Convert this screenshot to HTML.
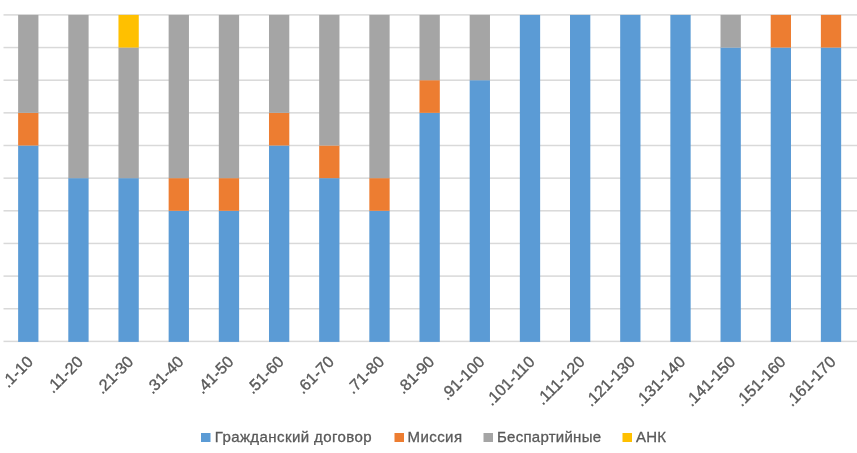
<!DOCTYPE html>
<html><head><meta charset="utf-8"><style>
html,body{margin:0;padding:0;background:#fff;}
body{width:857px;height:453px;overflow:hidden;position:relative;font-family:"Liberation Sans",sans-serif;}
svg{position:absolute;left:0;top:0;filter:blur(0.45px);}
</style></head><body>
<svg width="857" height="453" viewBox="0 0 857 453" font-family="Liberation Sans, sans-serif">

<rect x="3.5" y="340.65" width="853.5" height="1.5" fill="#D9D9D9"/>
<rect x="3.5" y="308.00" width="853.5" height="1.5" fill="#D9D9D9"/>
<rect x="3.5" y="275.35" width="853.5" height="1.5" fill="#D9D9D9"/>
<rect x="3.5" y="242.70" width="853.5" height="1.5" fill="#D9D9D9"/>
<rect x="3.5" y="210.05" width="853.5" height="1.5" fill="#D9D9D9"/>
<rect x="3.5" y="177.40" width="853.5" height="1.5" fill="#D9D9D9"/>
<rect x="3.5" y="144.75" width="853.5" height="1.5" fill="#D9D9D9"/>
<rect x="3.5" y="112.10" width="853.5" height="1.5" fill="#D9D9D9"/>
<rect x="3.5" y="79.45" width="853.5" height="1.5" fill="#D9D9D9"/>
<rect x="3.5" y="46.80" width="853.5" height="1.5" fill="#D9D9D9"/>
<rect x="3.5" y="14.15" width="853.5" height="1.5" fill="#D9D9D9"/>
<rect x="18.13" y="145.50" width="20.3" height="196.40" fill="#5B9BD5"/>
<rect x="18.13" y="112.85" width="20.3" height="32.65" fill="#ED7D31"/>
<rect x="18.13" y="14.90" width="20.3" height="97.95" fill="#A5A5A5"/>
<rect x="68.30" y="178.15" width="20.3" height="163.75" fill="#5B9BD5"/>
<rect x="68.30" y="14.90" width="20.3" height="163.25" fill="#A5A5A5"/>
<rect x="118.47" y="178.15" width="20.3" height="163.75" fill="#5B9BD5"/>
<rect x="118.47" y="47.55" width="20.3" height="130.60" fill="#A5A5A5"/>
<rect x="118.47" y="14.90" width="20.3" height="32.65" fill="#FFC000"/>
<rect x="168.64" y="210.80" width="20.3" height="131.10" fill="#5B9BD5"/>
<rect x="168.64" y="178.15" width="20.3" height="32.65" fill="#ED7D31"/>
<rect x="168.64" y="14.90" width="20.3" height="163.25" fill="#A5A5A5"/>
<rect x="218.81" y="210.80" width="20.3" height="131.10" fill="#5B9BD5"/>
<rect x="218.81" y="178.15" width="20.3" height="32.65" fill="#ED7D31"/>
<rect x="218.81" y="14.90" width="20.3" height="163.25" fill="#A5A5A5"/>
<rect x="268.99" y="145.50" width="20.3" height="196.40" fill="#5B9BD5"/>
<rect x="268.99" y="112.85" width="20.3" height="32.65" fill="#ED7D31"/>
<rect x="268.99" y="14.90" width="20.3" height="97.95" fill="#A5A5A5"/>
<rect x="319.16" y="178.15" width="20.3" height="163.75" fill="#5B9BD5"/>
<rect x="319.16" y="145.50" width="20.3" height="32.65" fill="#ED7D31"/>
<rect x="319.16" y="14.90" width="20.3" height="130.60" fill="#A5A5A5"/>
<rect x="369.33" y="210.80" width="20.3" height="131.10" fill="#5B9BD5"/>
<rect x="369.33" y="178.15" width="20.3" height="32.65" fill="#ED7D31"/>
<rect x="369.33" y="14.90" width="20.3" height="163.25" fill="#A5A5A5"/>
<rect x="419.50" y="112.85" width="20.3" height="229.05" fill="#5B9BD5"/>
<rect x="419.50" y="80.20" width="20.3" height="32.65" fill="#ED7D31"/>
<rect x="419.50" y="14.90" width="20.3" height="65.30" fill="#A5A5A5"/>
<rect x="469.67" y="80.20" width="20.3" height="261.70" fill="#5B9BD5"/>
<rect x="469.67" y="14.90" width="20.3" height="65.30" fill="#A5A5A5"/>
<rect x="519.84" y="14.90" width="20.3" height="327.00" fill="#5B9BD5"/>
<rect x="570.01" y="14.90" width="20.3" height="327.00" fill="#5B9BD5"/>
<rect x="620.18" y="14.90" width="20.3" height="327.00" fill="#5B9BD5"/>
<rect x="670.35" y="14.90" width="20.3" height="327.00" fill="#5B9BD5"/>
<rect x="720.52" y="47.55" width="20.3" height="294.35" fill="#5B9BD5"/>
<rect x="720.52" y="14.90" width="20.3" height="32.65" fill="#A5A5A5"/>
<rect x="770.69" y="47.55" width="20.3" height="294.35" fill="#5B9BD5"/>
<rect x="770.69" y="14.90" width="20.3" height="32.65" fill="#ED7D31"/>
<rect x="820.86" y="47.55" width="20.3" height="294.35" fill="#5B9BD5"/>
<rect x="820.86" y="14.90" width="20.3" height="32.65" fill="#ED7D31"/>
<text x="0" y="0" transform="translate(33.98,362.7) rotate(-45)" text-anchor="end" font-size="16.0" fill="#595959" stroke="#595959" stroke-width="0.35">.1-10</text>
<text x="0" y="0" transform="translate(84.16,362.7) rotate(-45)" text-anchor="end" font-size="16.0" fill="#595959" stroke="#595959" stroke-width="0.35">.11-20</text>
<text x="0" y="0" transform="translate(134.32,362.7) rotate(-45)" text-anchor="end" font-size="16.0" fill="#595959" stroke="#595959" stroke-width="0.35">.21-30</text>
<text x="0" y="0" transform="translate(184.49,362.7) rotate(-45)" text-anchor="end" font-size="16.0" fill="#595959" stroke="#595959" stroke-width="0.35">.31-40</text>
<text x="0" y="0" transform="translate(234.66,362.7) rotate(-45)" text-anchor="end" font-size="16.0" fill="#595959" stroke="#595959" stroke-width="0.35">.41-50</text>
<text x="0" y="0" transform="translate(284.83,362.7) rotate(-45)" text-anchor="end" font-size="16.0" fill="#595959" stroke="#595959" stroke-width="0.35">.51-60</text>
<text x="0" y="0" transform="translate(335.00,362.7) rotate(-45)" text-anchor="end" font-size="16.0" fill="#595959" stroke="#595959" stroke-width="0.35">.61-70</text>
<text x="0" y="0" transform="translate(385.18,362.7) rotate(-45)" text-anchor="end" font-size="16.0" fill="#595959" stroke="#595959" stroke-width="0.35">.71-80</text>
<text x="0" y="0" transform="translate(435.34,362.7) rotate(-45)" text-anchor="end" font-size="16.0" fill="#595959" stroke="#595959" stroke-width="0.35">.81-90</text>
<text x="0" y="0" transform="translate(485.51,362.7) rotate(-45)" text-anchor="end" font-size="16.0" fill="#595959" stroke="#595959" stroke-width="0.35">.91-100</text>
<text x="0" y="0" transform="translate(535.69,362.7) rotate(-45)" text-anchor="end" font-size="16.0" fill="#595959" stroke="#595959" stroke-width="0.35">.101-110</text>
<text x="0" y="0" transform="translate(585.86,362.7) rotate(-45)" text-anchor="end" font-size="16.0" fill="#595959" stroke="#595959" stroke-width="0.35">.111-120</text>
<text x="0" y="0" transform="translate(636.03,362.7) rotate(-45)" text-anchor="end" font-size="16.0" fill="#595959" stroke="#595959" stroke-width="0.35">.121-130</text>
<text x="0" y="0" transform="translate(686.20,362.7) rotate(-45)" text-anchor="end" font-size="16.0" fill="#595959" stroke="#595959" stroke-width="0.35">.131-140</text>
<text x="0" y="0" transform="translate(736.37,362.7) rotate(-45)" text-anchor="end" font-size="16.0" fill="#595959" stroke="#595959" stroke-width="0.35">.141-150</text>
<text x="0" y="0" transform="translate(786.54,362.7) rotate(-45)" text-anchor="end" font-size="16.0" fill="#595959" stroke="#595959" stroke-width="0.35">.151-160</text>
<text x="0" y="0" transform="translate(836.71,362.7) rotate(-45)" text-anchor="end" font-size="16.0" fill="#595959" stroke="#595959" stroke-width="0.35">.161-170</text>
</svg>
<svg width="857" height="453" viewBox="0 0 857 453" font-family="Liberation Sans, sans-serif">
<rect x="201" y="433" width="9.5" height="9" fill="#5B9BD5"/>
<text x="214.7" y="441.5" font-size="15.0" fill="#595959" stroke="#595959" stroke-width="0.3" textLength="157" lengthAdjust="spacing">Гражданский договор</text>
<rect x="394.5" y="433" width="9.5" height="9" fill="#ED7D31"/>
<text x="407.5" y="441.5" font-size="15.0" fill="#595959" stroke="#595959" stroke-width="0.3" textLength="54.5" lengthAdjust="spacing">Миссия</text>
<rect x="483.5" y="433" width="9.5" height="9" fill="#A5A5A5"/>
<text x="497.0" y="441.5" font-size="15.0" fill="#595959" stroke="#595959" stroke-width="0.3" textLength="104" lengthAdjust="spacing">Беспартийные</text>
<rect x="622.5" y="433" width="9.5" height="9" fill="#FFC000"/>
<text x="636.0" y="441.5" font-size="15.0" fill="#595959" stroke="#595959" stroke-width="0.3" textLength="30" lengthAdjust="spacing">АНК</text>
</svg>
</body></html>
